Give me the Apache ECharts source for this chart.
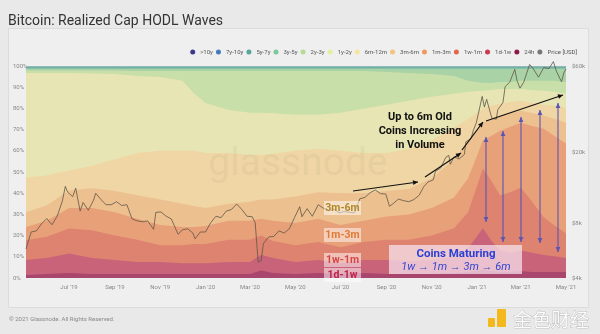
<!DOCTYPE html>
<html><head><meta charset="utf-8">
<script src="https://cdn.jsdelivr.net/npm/echarts@6/dist/echarts.min.js"></script>
<style>html,body{margin:0;padding:0;background:#e9e9e9;}#c{width:600px;height:334px;}</style>
</head><body><div id="c"></div>
<script>
// ---- data ----
const bandDates = ['2019-05-04','2019-06-01','2019-07-01','2019-08-01','2019-09-01','2019-10-01','2019-11-01','2019-12-01','2019-12-16','2020-01-01','2020-02-01','2020-03-01','2020-03-16','2020-04-01','2020-05-01','2020-06-01','2020-07-01','2020-08-01','2020-09-01','2020-10-01','2020-11-01','2020-12-01','2020-12-20','2021-01-09','2021-01-20','2021-02-01','2021-02-15','2021-03-01','2021-03-15','2021-04-01','2021-04-15','2021-05-01'];
const h24   = [1.4,1.9,2.3,1.9,1.9,1.9,1.9,1.9,1.9,1.9,1.9,1.9,3.5,2.3,1.9,2.3,1.9,2.3,1.9,1.9,1.9,2.3,2.8,3.8,3.3,2.8,2.8,3.3,2.8,2.8,2.8,2.8];
const d1w1  = [7.1,7.5,9.3,7.5,6.6,5.6,5.6,5.1,5.1,5.1,5.6,5.6,7.5,7.1,5.6,6.2,5.1,6.2,6.6,6.1,6.6,8.0,11.2,19.7,14.5,10.2,9.2,9.7,9.2,8.0,7.5,6.6];
const w1m1  = [9.3,10.0,11.7,13.1,11.5,10.5,8.0,8.5,9.0,9.0,10.5,10.5,9.0,8.1,8.0,8.5,7.5,8.5,9.5,10.0,11.5,13.2,17.0,28.1,28.2,26.0,28.4,29.7,24.6,17.8,14.6,11.7];
const m1m3  = [6.2,7.6,9.7,10.5,11.0,10.0,9.5,8.5,8.0,8.5,9.0,9.0,8.0,9.5,10.5,11.0,10.5,10.0,11.0,12.0,13.0,14.5,16.0,13.2,21.0,30.5,31.0,30.5,35.2,41.8,42.2,42.3];
const m3m6  = [7.0,7.3,8.3,9.3,10.0,11.0,12.0,11.0,10.0,8.5,8.0,9.0,9.0,10.0,12.5,12.5,15.0,13.0,12.0,12.0,14.0,18.0,17.8,8.4,8.0,7.0,6.6,5.7,6.2,6.1,8.0,9.8];
const m6m12 = [16.4,14.1,9.4,10.7,15.0,20.0,23.0,25.0,26.0,26.0,24.0,22.0,21.0,21.5,21.5,20.5,20.0,19.0,18.0,19.0,18.0,15.0,10.2,6.6,6.2,5.7,5.0,4.7,4.6,5.2,6.1,7.1];
const y1y2  = [49.3,48.3,46.0,43.5,40.2,36.3,34.8,33.0,27.3,23.6,20.3,19.9,19.9,19.2,17.0,16.0,18.0,20.8,22.7,22.6,20.5,15.9,12.8,8.5,7.5,7.0,6.2,5.6,6.1,6.6,6.6,6.6];
const y2y3  = [1.2,1.2,1.2,1.4,1.7,2.4,2.9,4.7,10.4,15.1,18.4,19.8,19.8,20.0,20.7,20.7,19.7,17.9,15.5,13.1,10.7,8.4,5.2,3.7,3.3,3.3,3.3,3.8,4.3,4.7,5.2,5.6];
const y3y5  = [0.8,0.8,0.8,0.8,0.8,1.0,1.0,1.0,1.0,1.0,1.0,1.0,1.0,1.0,1.0,1.0,1.0,1.0,1.5,2.0,2.5,3.4,5.7,6.7,6.7,6.2,6.2,5.7,5.7,5.7,5.7,6.2];
const y5y7  = [0.6,0.6,0.6,0.6,0.6,0.6,0.6,0.6,0.6,0.6,0.6,0.6,0.6,0.6,0.6,0.6,0.6,0.6,0.6,0.6,0.6,0.6,0.6,0.6,0.6,0.6,0.6,0.6,0.6,0.6,0.6,0.6];
const y7y10 = [0.4,0.4,0.4,0.4,0.4,0.4,0.4,0.4,0.4,0.4,0.4,0.4,0.4,0.4,0.4,0.4,0.4,0.4,0.4,0.4,0.4,0.4,0.4,0.4,0.4,0.4,0.4,0.4,0.4,0.4,0.4,0.4];
const y10p  = [0.3,0.3,0.3,0.3,0.3,0.3,0.3,0.3,0.3,0.3,0.3,0.3,0.3,0.3,0.3,0.3,0.3,0.3,0.3,0.3,0.3,0.3,0.3,0.3,0.3,0.3,0.3,0.3,0.3,0.3,0.3,0.3];

const priceDates = ['2019-05-04','2019-05-11','2019-05-18','2019-05-25','2019-06-01','2019-06-08','2019-06-15','2019-06-22','2019-06-26','2019-06-29','2019-07-06','2019-07-10','2019-07-16','2019-07-20','2019-07-27','2019-08-03','2019-08-06','2019-08-13','2019-08-20','2019-08-27','2019-09-03','2019-09-10','2019-09-17','2019-09-24','2019-10-01','2019-10-08','2019-10-15','2019-10-23','2019-10-26','2019-11-02','2019-11-09','2019-11-16','2019-11-23','2019-11-25','2019-12-01','2019-12-08','2019-12-15','2019-12-18','2019-12-25','2020-01-01','2020-01-08','2020-01-15','2020-01-22','2020-01-29','2020-02-05','2020-02-12','2020-02-19','2020-02-26','2020-03-04','2020-03-08','2020-03-12','2020-03-16','2020-03-19','2020-03-26','2020-04-02','2020-04-09','2020-04-16','2020-04-23','2020-04-30','2020-05-07','2020-05-10','2020-05-17','2020-05-24','2020-06-01','2020-06-08','2020-06-15','2020-06-22','2020-06-29','2020-07-06','2020-07-13','2020-07-20','2020-07-27','2020-08-03','2020-08-10','2020-08-17','2020-08-24','2020-08-31','2020-09-05','2020-09-10','2020-09-17','2020-09-24','2020-10-01','2020-10-08','2020-10-15','2020-10-21','2020-10-27','2020-11-03','2020-11-06','2020-11-13','2020-11-20','2020-11-24','2020-11-26','2020-12-01','2020-12-08','2020-12-15','2020-12-17','2020-12-24','2020-12-27','2020-12-31','2021-01-03','2021-01-08','2021-01-11','2021-01-14','2021-01-21','2021-01-27','2021-01-29','2021-02-05','2021-02-08','2021-02-14','2021-02-21','2021-02-24','2021-02-28','2021-03-05','2021-03-13','2021-03-18','2021-03-25','2021-04-01','2021-04-08','2021-04-14','2021-04-18','2021-04-25','2021-04-28','2021-05-01'];
const priceValues = [5800,7200,7300,8000,8550,7900,8800,10700,12900,12000,11300,12600,9400,10500,9500,10800,11800,10900,10200,10200,10600,10100,10200,8500,8300,8200,8300,7450,9250,9300,8800,8500,7300,7000,7400,7500,7100,6600,7200,7200,8100,8800,8650,9400,9600,10300,9600,8800,8750,8100,4900,5000,6200,6750,6800,7300,7100,7500,8650,9950,8750,9700,8800,10200,9750,9450,9650,9200,9350,9250,9200,11000,11200,11900,12300,11750,11700,10000,10350,10950,10750,10600,10900,11500,12800,13650,14000,15600,16300,18700,19150,17100,18800,18300,19400,22800,23700,26300,29000,32800,40700,35500,39200,30800,30400,34300,37600,46200,48700,57500,49700,45200,48800,61200,57800,52000,58800,58000,63500,56200,49000,54900,57800];

const xTickDates = ['2019-07-01','2019-09-01','2019-11-01','2020-01-01','2020-03-01','2020-05-01','2020-07-01','2020-09-01','2020-11-01','2021-01-01','2021-03-01','2021-05-01'];
const priceTicks = [4000, 8000, 20000, 60000];

const bands = [
  {name:'24h',    data:h24,   dot:'#8e1a4c', fill:'#a8466e'},
  {name:'1d-1w',  data:d1w1,  dot:'#c93a4e', fill:'#c9637a'},
  {name:'1w-1m',  data:w1m1,  dot:'#e2664a', fill:'#de8370'},
  {name:'1m-3m',  data:m1m3,  dot:'#ee9a5e', fill:'#e8a079'},
  {name:'3m-6m',  data:m3m6,  dot:'#f3c57c', fill:'#edc090'},
  {name:'6m-12m', data:m6m12, dot:'#f4e79c', fill:'#efd6a4'},
  {name:'1y-2y',  data:y1y2,  dot:'#e4ee9e', fill:'#e7e5b3'},
  {name:'2y-3y',  data:y2y3,  dot:'#b4dc96', fill:'#c9dfaa'},
  {name:'3y-5y',  data:y3y5,  dot:'#7fc79a', fill:'#a9d2a6'},
  {name:'5y-7y',  data:y5y7,  dot:'#52a69c', fill:'#7dbaa8'},
  {name:'7y-10y', data:y7y10, dot:'#3f7bbd', fill:'#6aa9a6'},
  {name:'>10y',   data:y10p,  dot:'#3d3a8e', fill:'#9cc2bd'}
];

function ts(s){ const p=s.split('-').map(Number); return new Date(p[0],p[1]-1,p[2]).getTime(); }
const MON=['Jan','Feb','Mar','Apr','May','Jun','Jul','Aug','Sep','Oct','Nov','Dec'];

// cumulative tops: each band drawn as an area down to 0, younger bands painted over older ones
const cum = bandDates.map(()=>0);
const bandSeries = bands.map(b => {
  const tops = b.data.map((v,i)=> (cum[i] += v));
  return {
    name:b.name, type:'line', symbol:'none', smooth:false,
    color:b.dot, lineStyle:{width:0}, areaStyle:{color:b.fill, opacity:1, origin:'start'},
    emphasis:{disabled:true}, silent:true,
    data: bandDates.map((d,i)=>[ts(d), Math.min(100, tops[i])])
  };
});
const series = bandSeries.slice().reverse();
series.push({
  name:'Price [USD]', type:'line', yAxisIndex:1, symbol:'none', clip:false,
  color:'#777', lineStyle:{color:'#5e5646', width:0.8}, z:5, silent:true,
  data: priceDates.map((d,i)=>[ts(d), priceValues[i]])
});

// ---- annotation helpers ----
function arrow(x1,y1,x2,y2,color,w,both){
  const els=[{type:'line',z:100,shape:{x1,y1,x2,y2},style:{stroke:color,lineWidth:w}}];
  function head(xa,ya,xb,yb){
    const dx=xb-xa, dy=yb-ya, L=Math.hypot(dx,dy), ux=dx/L, uy=dy/L, s=5, h=2.4;
    const bx=xb-ux*s, by=yb-uy*s;
    els.push({type:'polygon',z:100,shape:{points:[[xb,yb],[bx-uy*h,by+ux*h],[bx+uy*h,by-ux*h]]},style:{fill:color}});
  }
  head(x1,y1,x2,y2); if(both) head(x2,y2,x1,y1);
  return els;
}
const F='Roboto, "Noto Sans", sans-serif';
let gfx=[
  {type:'rect',z:-10,silent:true,shape:{x:8.5,y:28.5,width:580,height:279},style:{fill:'#efefef',stroke:'#dcdcdc',lineWidth:1}},
  {type:'text',z:100,left:8,top:14,style:{text:'Bitcoin: Realized Cap HODL Waves',font:'14px '+F,fill:'#333'}},
  {type:'text',z:100,x:298,y:165,style:{text:'glassnode',font:'39px '+F,fill:'rgba(110,100,90,0.06)',align:'center',verticalAlign:'middle'}},
  {type:'text',z:100,left:9,top:316,style:{text:'© 2021 Glassnode. All Rights Reserved.',font:'6px '+F,fill:'#888'}},
  {type:'text',z:100,x:420,y:117,style:{text:'Up to 6m Old',font:'bold 11px '+F,fill:'#111',align:'center',verticalAlign:'middle'}},
  {type:'text',z:100,x:420,y:131,style:{text:'Coins Increasing',font:'bold 11px '+F,fill:'#111',align:'center',verticalAlign:'middle'}},
  {type:'text',z:100,x:420,y:145,style:{text:'in Volume',font:'bold 11px '+F,fill:'#111',align:'center',verticalAlign:'middle'}},
  {type:'rect',z:99,shape:{x:389,y:245,width:133,height:29},style:{fill:'rgba(246,228,240,0.72)'}},
  {type:'text',z:100,x:456,y:254,style:{text:'Coins Maturing',font:'bold 11.5px '+F,fill:'#2b3fd6',align:'center',verticalAlign:'middle'}},
  {type:'text',z:100,x:456,y:267,style:{text:'1w \u2192 1m \u2192 3m \u2192 6m',font:'italic 11px '+F,fill:'#3546d0',align:'center',verticalAlign:'middle'}},
  {type:'rect',z:100,shape:{x:488,y:318,width:7,height:9,r:1},style:{fill:'#f2b81c'}},
  {type:'rect',z:100,shape:{x:497,y:309,width:9,height:18,r:1},style:{fill:'#f2b81c'}},
  {type:'text',z:100,x:551,y:320,style:{text:'金色财经',font:'19px "Noto Sans CJK SC"',fill:'rgba(255,255,255,0.9)',stroke:'#aaa',lineWidth:0.6,align:'center',verticalAlign:'middle'}}
];
const tags=[['3m-6m',208,'#b08a2a'],['1m-3m',235,'#e07a35'],['1w-1m',260,'#d84545'],['1d-1w',275,'#c0204a']];
tags.forEach(t=>{
  gfx.push({type:'rect',z:99,shape:{x:324,y:t[1]-7,width:37,height:14},style:{fill:'rgba(255,255,255,0.5)'}});
  gfx.push({type:'text',z:100,x:342.5,y:t[1],style:{text:t[0],font:'bold 10.5px '+F,fill:t[2],align:'center',verticalAlign:'middle'}});
});
gfx=gfx.concat(arrow(353,191,418,182,'#111',1.2,false));
gfx=gfx.concat(arrow(425,177,461,153,'#111',1.2,false));
gfx=gfx.concat(arrow(462,150,483,122,'#111',1.2,false));
gfx=gfx.concat(arrow(486,121,563,95,'#111',1.2,false));
[[486,137,222],[503,131,242],[521,117,242],[540,110,243],[558,103,252]].forEach(a=>{
  gfx=gfx.concat(arrow(a[0],a[2],a[0],a[1],'#5a55b4',1.1,true));
});

const chart = echarts.init(document.getElementById('c'), null, {renderer:'canvas'});
chart.setOption({
  backgroundColor:'#e9e9e9',
  animation:false,
  textStyle:{fontFamily:F},
  legend:{
    right:18, top:44, icon:'circle', itemWidth:5, itemHeight:5, itemGap:3,
    textStyle:{fontSize:6, color:'#555'},
    data:['>10y','7y-10y','5y-7y','3y-5y','2y-3y','1y-2y','6m-12m','3m-6m','1m-3m','1w-1m','1d-1w','24h','Price [USD]'],
    selectedMode:false
  },
  grid:{left:26, right:34, top:66, bottom:56},
  xAxis:{
    type:'value', min:ts('2019-05-04'), max:ts('2021-05-01'),
    axisLine:{show:false}, axisTick:{show:false}, splitLine:{show:false},
    axisLabel:{customValues:xTickDates.map(ts), fontSize:6, color:'#888', margin:6,
      formatter:function(v){const d=new Date(v);return MON[d.getMonth()]+" '"+String(d.getFullYear()).slice(2);}}
  },
  yAxis:[
    {type:'value', min:0, max:100, interval:10,
     axisLine:{show:false}, axisTick:{show:false}, splitLine:{show:false},
     axisLabel:{fontSize:6, color:'#888', align:'left', margin:13, formatter:'{value}%'}},
    {type:'log', min:4000, max:60000, position:'right',
     axisLine:{show:false}, axisTick:{show:false}, splitLine:{show:false},
     axisLabel:{customValues:priceTicks, fontSize:6, color:'#888', margin:6,
      formatter:function(v){return '$'+Math.round(v/1000)+'k';}}}
  ],
  series:series,
  graphic:{elements:gfx}
});
</script></body></html>
